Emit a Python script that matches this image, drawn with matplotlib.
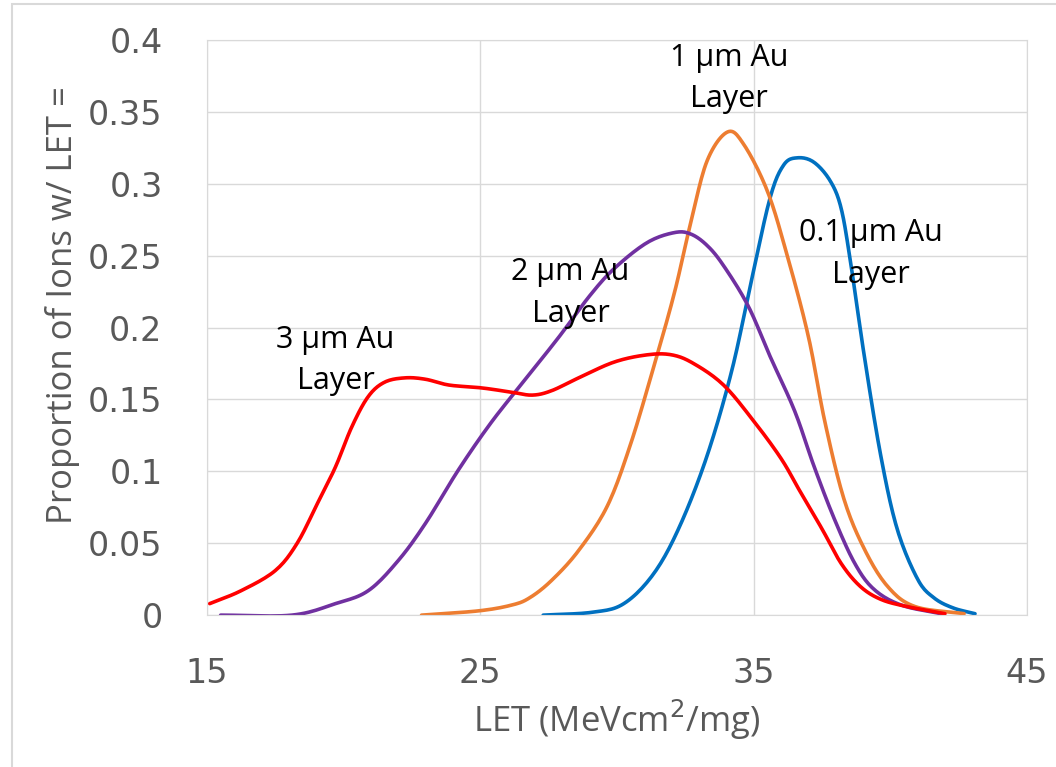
import numpy as np
import matplotlib.pyplot as plt
from matplotlib.patches import Rectangle

# LET (MeVcm2/mg) vs proportion
let_3um = [15.1, 16.25, 17.5, 18.3, 19.05, 19.7, 20.3, 20.9, 21.5, 22.25, 23.0, 23.85, 25.05,
           26.15, 26.9, 27.6, 28.6, 29.9, 31.1, 32.0, 32.8, 33.9, 35.0, 36.0, 36.7, 37.5,
           38.2, 38.9, 39.65, 40.6, 42.0]
prop_3um = [0.008, 0.017, 0.031, 0.050, 0.078, 0.103, 0.131, 0.152, 0.162, 0.165, 0.164, 0.160, 0.158,
            0.155, 0.153, 0.156, 0.165, 0.176, 0.181, 0.181, 0.175, 0.160, 0.135, 0.109, 0.086, 0.060,
            0.036, 0.020, 0.011, 0.006, 0.001]

let_2um = [15.5, 18.1, 19.7, 20.9, 22.0, 23.0, 24.2, 25.4, 26.65, 27.9, 29.0, 29.9, 31.1, 32.1,
           32.7, 33.3, 33.9, 34.8, 35.6, 36.5, 37.2, 37.95, 38.7, 39.4, 40.4, 41.85]
prop_2um = [0.0, 0.0, 0.008, 0.017, 0.038, 0.064, 0.101, 0.134, 0.164, 0.194, 0.222, 0.241, 0.259, 0.266,
            0.265, 0.257, 0.243, 0.215, 0.180, 0.142, 0.104, 0.067, 0.036, 0.018, 0.007, 0.001]

let_1um = [22.85, 24.95, 26.15, 26.8, 27.6, 28.6, 29.65, 30.5, 31.35, 32.1, 32.7, 33.3, 34.05,
           34.65, 35.5, 36.2, 37.0, 37.6, 38.3, 39.05, 39.9, 40.9, 42.7]
prop_1um = [0.0, 0.003, 0.007, 0.012, 0.024, 0.045, 0.076, 0.119, 0.173, 0.224, 0.273, 0.316, 0.336,
            0.327, 0.295, 0.252, 0.194, 0.135, 0.081, 0.046, 0.020, 0.006, 0.001]

let_01um = [27.3, 29.1, 30.25, 31.35, 32.3, 33.3, 34.2, 34.9, 35.6, 36.1, 36.6, 37.2, 37.8, 38.2,
            38.55, 39.05, 39.65, 40.25, 41.0, 41.6, 42.3, 43.1]
prop_01um = [0.0, 0.002, 0.008, 0.029, 0.062, 0.111, 0.170, 0.231, 0.290, 0.313, 0.318, 0.315, 0.302, 0.283,
             0.245, 0.180, 0.111, 0.060, 0.025, 0.012, 0.005, 0.001]

labels = ["3 \u03bcm Au\nLayer", "2 \u03bcm Au\nLayer", "1 \u03bcm Au\nLayer", "0.1 \u03bcm Au\nLayer"]
label_pos = [(19.7, 0.177), (28.3, 0.224), (34.1, 0.373), (39.3, 0.251)]


def smooth(x, y, n=12):
    # Catmull-Rom style smoothing, like Excel's "smoothed line"
    x = np.asarray(x, float)
    y = np.asarray(y, float)
    px = np.concatenate([[2 * x[0] - x[1]], x, [2 * x[-1] - x[-2]]])
    py = np.concatenate([[2 * y[0] - y[1]], y, [2 * y[-1] - y[-2]]])
    t = np.linspace(0, 1, n, endpoint=False)
    xs, ys = [], []
    for i in range(1, len(px) - 2):
        for arr, out in ((px, xs), (py, ys)):
            p0, p1, p2, p3 = arr[i - 1], arr[i], arr[i + 1], arr[i + 2]
            out.extend(0.5 * (2 * p1 + (-p0 + p2) * t + (2 * p0 - 5 * p1 + 4 * p2 - p3) * t ** 2
                              + (-p0 + 3 * p1 - 3 * p2 + p3) * t ** 3))
    xs.append(x[-1])
    ys.append(y[-1])
    return np.array(xs), np.array(ys)


plt.rcParams['font.family'] = ['Open Sans', 'DejaVu Sans']

fig = plt.figure(figsize=(10.56, 7.67), dpi=100)
# thin outer frame like the pasted Excel chart
fig.patches.append(Rectangle((12 / 1056, -0.01), 1.0, 1.01 - 4 / 767, transform=fig.transFigure,
                             fill=False, edgecolor='#d9d9d9', lw=1.5))
ax = fig.add_axes([0.196, 0.198, 0.7765, 0.750])

series = [
    (let_01um, prop_01um, '#0070C0'),
    (let_1um, prop_1um, '#ED7D31'),
    (let_2um, prop_2um, '#7030A0'),
    (let_3um, prop_3um, '#FF0000'),
]
for xv, yv, c in series:
    sx, sy = smooth(xv, yv)
    ax.plot(sx, sy, color=c, lw=2.6, solid_capstyle='round')

for txt, (tx, ty) in zip(labels, label_pos):
    ax.text(tx, ty, txt, ha='center', va='center', fontsize=22, linespacing=1.5, color='black')

ax.set_xlim(15, 45)
ax.set_ylim(0, 0.4)
ax.set_xticks([15, 25, 35, 45])
ax.set_yticks(np.arange(0, 0.401, 0.05))
ax.set_yticklabels(['0', '0.05', '0.1', '0.15', '0.2', '0.25', '0.3', '0.35', '0.4'])
ax.grid(True, color='#d9d9d9', lw=1)
ax.set_axisbelow(True)
for s in ax.spines.values():
    s.set_color('#d9d9d9')
ax.tick_params(length=0, labelsize=24, labelcolor='#595959')
for lab in ax.get_xticklabels() + ax.get_yticklabels():
    lab.set_family('DejaVu Sans')
ax.tick_params(axis='x', pad=30)
ax.tick_params(axis='y', pad=32)
ax.set_xlabel('LET (MeVcm$^{2}$/mg)', fontsize=25, color='#595959', labelpad=6)
ax.set_ylabel('Proportion of Ions w/ LET =', fontsize=25, color='#595959')
ax.yaxis.set_label_coords(-0.155, 0.539)

fig.savefig('out.png', dpi=100)
